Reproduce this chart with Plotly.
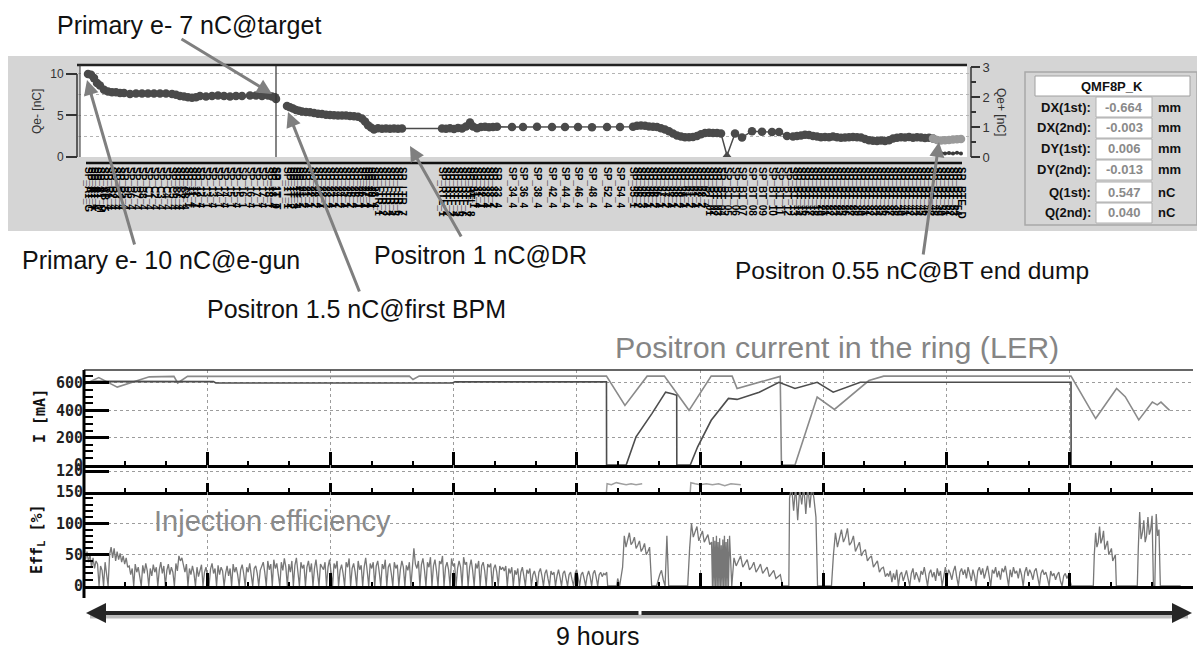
import numpy as np
import plotly.graph_objects as go

W, H = 1197, 649

# ---------------- top panel: bunch charge along the beam line ----------------
e_s = [0, 3, 6, 9, 12, 16, 20, 24, 28, 32, 36, 42, 48, 54, 60, 66, 72, 78, 84, 88,
       92, 96, 100, 104, 108, 112, 118, 124, 130, 136, 142, 148, 154, 162, 168, 174, 180, 184, 187, 188]
e_q = [10.0, 9.9, 9.5, 8.9, 8.6, 8.1, 7.9, 7.8, 7.8, 7.7, 7.7, 7.6, 7.65, 7.65, 7.65, 7.65, 7.65, 7.65, 7.6, 7.5,
       7.35, 7.3, 7.2, 7.15, 7.2, 7.35, 7.3, 7.35, 7.4, 7.35, 7.3, 7.35, 7.35, 7.4, 7.4, 7.35, 7.4, 7.3, 7.2, 7.0]
e_names = ("SP_A1_G SP_A1_T SP_A1_4 SP_A1_C SP_A1_M SP_AB_5 SP_B1_4 SP_B2_4 SP_B3_4 SP_B4_4 "
           "SP_B5_4 SP_B6_4 SP_B7_4 SP_B8_4 SP_C1_4 SP_C2_4 SP_C3_4 SP_C4_4 SP_C5_4 SP_C6_4 "
           "SP_C7_4 SP_C8_4 SP_11_1 SP_11_4 SP_12_1 SP_12_4 SP_13_1 SP_13_4 SP_14_1 SP_14_4 "
           "SP_15_1 SP_15_4 SP_16_1 SP_16_4 SP_17_1 SP_17_4 SP_18_1 SP_18_4 SP_1T_0 SP_1T_T").split()

p_s = [199, 202, 205, 208, 211, 214, 218, 222, 226, 230, 234, 238, 242, 246, 250, 254, 258, 262, 266, 270,
       274, 277, 280, 283, 286, 290, 294, 298, 302, 306, 310, 314,
       354, 358, 362, 366, 370, 374, 378, 382, 385, 389, 393, 397, 401, 405, 409,
       424, 435, 449, 464, 477, 490, 504, 519, 532,
       545, 549, 553, 557, 561, 565, 569, 573, 577, 581, 585, 589, 593, 597, 601, 605, 609, 613, 617, 621,
       625, 629, 633,
       639,
       647, 654, 664, 674, 684, 691,
       699, 705, 709, 713, 717, 721, 725, 729, 733, 737, 741, 745, 749, 753, 757, 761, 765, 769, 773, 777,
       781, 785, 789, 793, 797, 801, 805, 809, 813, 817, 821, 825, 829, 833, 837, 841, 845]
p_q = [1.70, 1.66, 1.62, 1.57, 1.54, 1.52, 1.50, 1.49, 1.47, 1.44, 1.43, 1.41, 1.40, 1.39, 1.38, 1.38, 1.38,
       1.37, 1.36, 1.34, 1.28, 1.18, 1.06, 0.98, 0.92, 0.96, 0.94, 0.95, 0.94, 0.95, 0.94, 0.95,
       0.95, 0.94, 0.96, 0.93, 0.97, 0.95, 1.02, 1.15, 1.02, 0.96, 1.00, 1.01, 0.99, 1.00, 1.01,
       1.00, 1.00, 1.01, 1.00, 1.00, 1.00, 0.99, 1.00, 1.00,
       1.01, 1.04, 1.05, 1.04, 1.02, 1.01, 1.00, 0.96, 0.92, 0.86, 0.78, 0.72, 0.68, 0.66, 0.66, 0.67,
       0.70, 0.76, 0.80, 0.81, 0.80, 0.80, 0.78,
       0.05,
       0.78, 0.65, 0.86, 0.84, 0.83, 0.83,
       0.70, 0.68, 0.70, 0.72, 0.74, 0.73, 0.70, 0.68, 0.66, 0.67, 0.66, 0.68, 0.66, 0.64, 0.65, 0.66,
       0.67, 0.66, 0.65, 0.60, 0.56, 0.54, 0.53, 0.55, 0.53, 0.56, 0.62, 0.64, 0.66, 0.65, 0.67, 0.64,
       0.66, 0.65, 0.63, 0.64, 0.62]
p_names = ("SP_1T_1 SP_1T_2 SP_1T_3 SP_1T_4 SP_21_1 SP_21_2 SP_21_4 SP_22_1 SP_22_2 SP_22_4 "
           "SP_23_1 SP_23_2 SP_23_4 SP_24_1 SP_24_2 SP_24_4 SP_25_1 SP_25_2 SP_25_4 SP_26_1 "
           "SP_26_4 SP_27_1 SP_27_4 SP_28_1 SP_28_4 SP_LTR_1 SP_LTR_2 SP_LTR_3 SP_LTR_4 SP_LTR_5 "
           "SP_LTR_6 SP_LTR_7 "
           "SP_RTL_1 SP_RTL_2 SP_RTL_3 SP_RTL_4 SP_RTL_5 SP_RTL_6 SP_RTL_7 SP_RTL_8 SP_31_1 SP_31_4 "
           "SP_32_1 SP_32_4 SP_33_1 SP_33_2 SP_33_4 "
           "SP_34_4 SP_36_4 SP_38_4 SP_42_4 SP_44_4 SP_46_4 SP_48_4 SP_52_4 SP_54_4 "
           "SP_55_1 SP_55_2 SP_55_3 SP_55_4 SP_56_1 SP_56_2 SP_56_4 SP_57_1 SP_57_2 SP_57_4 "
           "SP_58_1 SP_58_2 SP_58_4 SP_61_1 SP_61_2 SP_61_4 SP_62_1 SP_62_2 SP_62_4 SP_BT_01 "
           "SP_BT_02 SP_BT_03 SP_BT_04 SP_BT_05 SP_BT_06 SP_BT_07 SP_BT_08 SP_BT_09 SP_BT_10 SP_BT_11 "
           "SP_BT_12 SP_BT_13 SP_BT_14 SP_BT_15 SP_BT_16 SP_BT_17 SP_BT_18 SP_BT_19 SP_BT_20 SP_BT_21 "
           "SP_BT_22 SP_BT_23 SP_BT_24 SP_BT_25 SP_BT_26 SP_BT_27 SP_BT_28 SP_BT_29 SP_BT_30 SP_BT_31 "
           "SP_BT_32 SP_BT_33 SP_BT_34 SP_BT_35 SP_BT_36 SP_BT_37 SP_BT_38 SP_BT_39 SP_BT_40 SP_BT_41 "
           "SP_BT_42 SP_BT_43 SP_BT_44 SP_BT_45 SP_BT_46 SP_BT_47 SP_BT_48").split()

l_s = [849, 853, 857, 861, 865, 869, 873]
l_q = [0.57, 0.55, 0.56, 0.57, 0.58, 0.59, 0.60]
l_names = "SP_BT_49 SP_BT_50 SP_BT_51 SP_BT_52 SP_BT_53 SP_BT_54 SP_BTE_D".split()

b2_s = [853, 857, 861, 865, 869, 873]
b2_q = [0.13, 0.12, 0.13, 0.12, 0.14, 0.12]

table_rows = [("DX(1st):", "-0.664", "mm"), ("DX(2nd):", "-0.003", "mm"), ("DY(1st):", "0.006", "mm"),
              ("DY(2nd):", "-0.013", "mm"), ("Q(1st):", "0.547", "nC"), ("Q(2nd):", "0.040", "nC")]

# ---------------- bottom panels: 9 hours of operation ----------------
cur_light_t = [0.00, 0.12, 0.27, 0.53, 0.73, 0.76, 0.84, 2.64, 2.67, 2.72, 4.24, 4.39, 4.57, 4.71, 4.91,
               5.09, 5.26, 5.30, 5.65, 5.66, 5.77, 5.95, 6.09, 6.37, 6.49, 8.01, 8.21, 8.38, 8.45, 8.56,
               8.67, 8.71, 8.74, 8.81]
cur_light_v = [590, 640, 570, 645, 648, 600, 648, 650, 625, 650, 650, 436, 650, 650, 400,
               650, 650, 560, 648, 0, 0, 497, 407, 618, 650, 650, 340, 560, 500, 330,
               460, 440, 460, 400]
cur_dark_t = [0.00, 0.09, 1.05, 1.07, 2.99, 3.01, 4.24, 4.241, 4.40, 4.48, 4.61, 4.72, 4.78, 4.81, 4.811,
              4.92, 4.98, 5.09, 5.23, 5.30, 5.48, 5.64, 5.77, 5.95, 6.08, 6.30, 8.01, 8.011]
cur_dark_v = [595, 612, 610, 600, 600, 608, 608, 0, 0, 206, 378, 533, 520, 510, 0,
              0, 133, 327, 487, 480, 533, 605, 560, 605, 533, 605, 605, 0]

strip_t = [4.24, 4.245, 4.28, 4.32, 4.36, 4.40, 4.44, 4.48, 4.53, None,
           4.92, 4.925, 4.96, 5.00, 5.05, 5.10, 5.15, 5.20, 5.25, 5.33]
strip_v = [100, 108, 107, 109, 108, 107, 108, 107, 108, None,
           100, 109, 108, 107, 108, 107, 108, 106, 108, 107]

eff_seg_a = [int(v) for v in """
60 42 55 38 50 30 45 28 40 35 0 32 25 0 38 20 0
50 62 45 60 40 55 42 52 38 48 35 45 30
32 18 28 0 35 22 30 15 0 33 20 36 24 0 28 16 34 22 30 0 26 38 20 32 0 25 35 18 30 22 0 36 24
48 40 45 30
22 35 0 28 18 32 20 0 30 15 26 34 0 22 30 18 0 27 36 20 28 0 33 18 30 24 0 20 32 16 28 0 35 22 30 18
0 26 34 20 0 30 22 36 18 0 28 32 20 0 25 33
38 22 0 40 26 35 0 42 28 36 20 0 38 25 44 30 0 35 22 40 0 33 45 26 0 38 28 34 0 30 40 22 36 0 28 42
25 0 35 30
26 38 0 30 42 22 0 36 28 40 0 25 34 20 0 38 30 44 0 28 36 22 0 40 26 33 0 30 45 24 0 36 28 38 0 32 40
22 0 35 27 42 0 30 36 20 0 38 28 34 0 26 40 30 0 33 25 38 0 30
60 35
28 40 0 34 44 26 0 38 30 46 0 32 42 24 0 40 35 48 0 30 38 26 0 44 32 36 0 28 40 30 0 46 34 38 0 30 42
25 0 36 28 40 0 32 38 24 0 35 30 36 0 28 34 22 0 32 26 30
24 32 0 28 20 30 0 25 18 28 0 22 30 16 0 26 20 28 0 18 24 14 0 22 28 16 0 20 26 12 0 24 18 22 0 16 26
14 0 20 24 12 0 18 22 10 0 20 26 14 0 18 22 12 0 16 24 15 0 20 25 14 0 18 22 15 20 18 22
""".split()]
eff_seg_b = [int(v) for v in """
15 24 6 20 10 26 0 18 22 8 16 25 12 0 20 28 10 22 15 6 24 18 30 12 0 20 26 14 22 8 28 16 24 0 18 30
12 26 20 10 24 32 14 0 22 28 18 26 12 30 20 8 26 16 0 24 30 18 28 12 22 32 16 0 26 20 30 14 24 10 28
22 32 18 0 26 14 30 20 24 12 28 18 0 22 30 16 26 20 10 24 28 14 0 20 26 18 22 12 0 24 16 20 10 18 22
8 0 16 20 12 18
""".split()]
eff_segments = [
    (0.000, 4.242, eff_seg_a),
    (4.250, 4.323, [0, 0]),
    (4.331, 4.347, [12, 0]),
    (4.371, 4.590, [30, 80, 62, 75, 85, 66, 70, 78, 60, 65, 72, 55, 60, 68, 50, 55, 62]),
    (4.607, 4.647, [0, 0]),
    (4.672, 4.745, [18, 25, 10, 0, 80, 0]),
    (4.760, 4.899, [0, 0]),
    (4.915, 5.093, [60, 100, 78, 85, 95, 72, 80, 88, 70, 75, 82, 66, 70]),
    (5.100, 5.230, [0, 78, 0, 72, 0, 80, 0, 70, 0, 76, 0, 65, 0, 74, 0, 80, 0, 70, 0, 75, 0]),
    (5.239, 5.669, [80, 0, 45, 32, 40, 48, 30, 35, 42, 26, 30, 38, 22, 28, 35, 20, 25, 30, 15, 20, 25,
                    12, 15, 18, 0]),
    (5.680, 5.720, [0, 0]),
    (5.726, 5.940, [140, 160, 120, 160, 105, 155, 130, 160, 115, 160, 125, 160, 140, 110]),
    (5.953, 6.066, [0, 0]),
    (6.082, 6.520, [50, 85, 62, 75, 90, 70, 78, 92, 65, 70, 80, 55, 62, 70, 48, 55, 58, 40, 45, 48, 30,
                    35, 40, 22, 28, 30, 15, 20]),
    (6.530, 7.990, eff_seg_b),
    (8.013, 8.191, [0, 0]),
    (8.199, 8.370, [50, 85, 62, 70, 95, 68, 75, 88, 58, 65, 72, 50, 55, 60, 40, 45, 50]),
    (8.378, 8.548, [0, 0]),
    (8.556, 8.735, [60, 118, 75, 85, 105, 70, 80, 110, 82, 90, 112, 0, 0, 115, 80, 90, 0]),
    (8.745, 8.900, [0, 0]),
]

eff_t, eff_v = [], []
for t0, t1, vals in eff_segments:
    eff_t.extend(np.linspace(t0, t1, len(vals)).tolist())
    eff_v.extend(vals)


# ---------------- helpers (layout positions in pixels -> paper) ----------------
def px(x):
    return x / W


def py(y):
    return 1 - y / H


SANS = "Liberation Sans"
MONO = "DejaVu Sans Mono"
DARK = "#4a4a4a"
GRID = "#9c9c9c"

fig = go.Figure()

# top panel traces
fig.add_trace(go.Scatter(x=e_s, y=e_q, mode="lines+markers", xaxis="x", yaxis="y",
                         line=dict(color=DARK, width=1.5), marker=dict(size=8.5, color=DARK)))
p_symbols = ["triangle-up" if q < 0.2 else "circle" for q in p_q]
fig.add_trace(go.Scatter(x=p_s, y=p_q, mode="lines+markers", xaxis="x", yaxis="y2",
                         line=dict(color=DARK, width=1.5),
                         marker=dict(size=8.5, color=DARK, symbol=p_symbols)))
fig.add_trace(go.Scatter(x=[p_s[-1]] + l_s, y=[p_q[-1]] + l_q, mode="lines+markers", xaxis="x", yaxis="y2",
                         line=dict(color="#9a9a9a", width=1.5), marker=dict(size=8.5, color="#9a9a9a")))
fig.add_trace(go.Scatter(x=b2_s, y=b2_q, mode="lines+markers", xaxis="x", yaxis="y2",
                         line=dict(color="#3a3a3a", width=2), marker=dict(size=4, color="#3a3a3a")))

# bottom panel traces
fig.add_trace(go.Scatter(x=cur_light_t, y=cur_light_v, mode="lines", xaxis="x2", yaxis="y3",
                         line=dict(color="#8a8a8a", width=1.6)))
fig.add_trace(go.Scatter(x=cur_dark_t, y=cur_dark_v, mode="lines", xaxis="x2", yaxis="y3",
                         line=dict(color="#4d4d4d", width=1.6)))
fig.add_trace(go.Scatter(x=strip_t, y=strip_v, mode="lines", xaxis="x3", yaxis="y4",
                         line=dict(color="#a0a0a0", width=1.5)))
fig.add_trace(go.Scatter(x=eff_t, y=eff_v, mode="lines", xaxis="x4", yaxis="y5",
                         line=dict(color="#777777", width=1.3)))

tick_s = e_s + p_s + l_s
tick_txt = e_names + p_names + l_names

bottom_x = dict(domain=[px(84), px(1193)], range=[0, 9], tick0=0, dtick=1, showticklabels=False,
                showgrid=True, gridcolor=GRID, griddash="dot", gridwidth=1, zeroline=False,
                automargin=False)
tick_font = dict(family=MONO, size=15, color="#222", weight="bold")
ylab = dict(ticks="inside", ticklen=25, tickwidth=3, tickcolor="black", showgrid=True,
            gridcolor=GRID, griddash="dot", zeroline=False, showline=False, tickfont=tick_font,
            automargin=False)

fig.update_layout(
    width=W, height=H, template="none",
    margin=dict(l=0, r=0, t=0, b=0),
    paper_bgcolor="white", plot_bgcolor="rgba(0,0,0,0)",
    showlegend=False,
    font=dict(family=SANS, color="#222"),
    xaxis=dict(domain=[px(78), px(970)], range=[-10, 882], anchor="y",
               tickmode="array", tickvals=tick_s, ticktext=tick_txt, tickangle=90,
               ticks="outside", ticklen=7, tickcolor="rgba(0,0,0,0)",
               tickfont=dict(family=SANS, size=10, color="#000", weight="bold"),
               showgrid=False, zeroline=False, showline=False, automargin=False),
    yaxis=dict(domain=[py(157), py(65)], range=[0, 11.08], anchor="x",
               tickvals=[0, 5, 10], ticks="outside", ticklen=11, tickwidth=1.5, tickcolor="#333",
               tickfont=dict(family=SANS, size=12, color="#333"),
               showgrid=True, gridcolor="#b4b4b4", griddash="dot",
               minor=dict(dtick=2.5, showgrid=True, gridcolor="#b4b4b4", griddash="dot"),
               zeroline=False, showline=False, automargin=False),
    yaxis2=dict(overlaying="y", side="right", anchor="x", range=[0, 3.067],
                tickvals=[0, 1, 2, 3], ticks="outside", ticklen=9, tickwidth=1.5, tickcolor="#333",
                minor=dict(dtick=0.5, ticks="outside", ticklen=5, tickcolor="#333"),
                tickfont=dict(family=SANS, size=13, color="#333"),
                showgrid=False, zeroline=False, showline=False, automargin=False),
    xaxis2=dict(bottom_x, anchor="y3", ticks="inside", ticklen=13, tickwidth=2.5, tickcolor="black",
                minor=dict(dtick=1 / 3, ticks="inside", ticklen=4, tickwidth=2, tickcolor="black"),
                showline=True, linewidth=3, linecolor="black"),
    yaxis3=dict(ylab, domain=[py(465), py(370)], range=[0, 695], anchor="x2",
                tickvals=[0, 200, 400, 600],
                minor=dict(dtick=50, ticks="inside", ticklen=9, tickwidth=2, tickcolor="black")),
    xaxis3=dict(bottom_x, anchor="y4", ticks="inside", ticklen=9, tickwidth=2.5, tickcolor="black",
                minor=dict(dtick=1 / 3, ticks="inside", ticklen=4, tickwidth=2, tickcolor="black"),
                showline=True, linewidth=3, linecolor="black"),
    yaxis4=dict(ylab, domain=[py(492), py(465)], range=[100, 126], anchor="x3", tickvals=[120]),
    xaxis4=dict(bottom_x, anchor="y5", ticks="inside", ticklen=13, tickwidth=2.5, tickcolor="black",
                minor=dict(dtick=1 / 3, ticks="inside", ticklen=4, tickwidth=2, tickcolor="black"),
                showline=True, linewidth=3, linecolor="black"),
    yaxis5=dict(ylab, domain=[py(586), py(492)], range=[0, 150], anchor="x4",
                tickvals=[0, 50, 100, 150],
                minor=dict(dtick=10, ticks="inside", ticklen=9, tickwidth=2, tickcolor="black")),
    xaxis5=dict(bottom_x, anchor="y6", ticks="", showline=False),
    yaxis6=dict(ylab, domain=[py(598), py(586)], range=[49, 53], anchor="x5", tickvals=[50]),
)

shapes = []


def rect(x0, y0, x1, y1, fill=None, line=None, lw=1, layer="below"):
    shapes.append(dict(type="rect", xref="paper", yref="paper", x0=px(x0), x1=px(x1), y0=py(y1), y1=py(y0),
                       fillcolor=fill or "rgba(0,0,0,0)", line=dict(color=line or "rgba(0,0,0,0)", width=lw),
                       layer=layer))


def hline(x0, x1, y, color, w, layer="above"):
    shapes.append(dict(type="line", xref="paper", yref="paper", x0=px(x0), x1=px(x1), y0=py(y), y1=py(y),
                       line=dict(color=color, width=w), layer=layer))


def vline(x, y0, y1, color, w, layer="above"):
    shapes.append(dict(type="line", xref="paper", yref="paper", x0=px(x), x1=px(x), y0=py(y0), y1=py(y1),
                       line=dict(color=color, width=w), layer=layer))


# top panel frame
rect(8, 56, 1197, 231, fill="#d5d5d5")
rect(80, 65, 967, 157, fill="white")
hline(77, 967, 65, "#222", 2.5)
vline(77, 74, 157, "#333", 1.5)
vline(80, 65, 157, "#333", 1)
vline(971, 67, 157, "#333", 1.5)
hline(86, 962, 163, "#111", 2.5)
# separator at the positron target (last electron BPM)
shapes.append(dict(type="line", xref="x", yref="paper", x0=e_s[-1], x1=e_s[-1], y0=py(157), y1=py(66),
                   line=dict(color="#333", width=1.2)))

# table box
rect(1025, 72, 1197, 225, fill="#d5d5d5", line="#a8a8a8", lw=1.5)
rect(1035, 76, 1190, 96, fill="white", line="#a0a0a0", lw=1)
row_y = [107, 128, 149, 170, 192, 213]
for yy in row_y:
    rect(1096, yy - 10, 1152, yy + 10, fill="white", line="#b0b0b0", lw=1)

# bottom panels frame
hline(84, 1193, 370, "#333", 1.5)
vline(84, 370, 598, "black", 3)
hline(90, 1188, 616.5, "#bdbdbd", 4, layer="below")

fig.update_layout(shapes=shapes)

ann = []


def text(x, y, s, size, color="#111", family=SANS, xanchor="left", angle=0, bold=False):
    ann.append(dict(x=px(x), y=py(y), xref="paper", yref="paper", text=s, showarrow=False,
                    xanchor=xanchor, yanchor="middle", textangle=angle,
                    font=dict(family=family, size=size, color=color, weight="bold" if bold else "normal")))


def arrow(tail, tip, color="#7f7f7f", width=3, head=2):
    ann.append(dict(x=px(tip[0]), y=py(tip[1]), xref="paper", yref="paper", text="",
                    ax=tail[0] - tip[0], ay=tail[1] - tip[1], axref="pixel", ayref="pixel",
                    showarrow=True, arrowhead=head, arrowsize=1, arrowwidth=width, arrowcolor=color))


text(55, 25, "Primary e- 7 nC@target", 25)
text(20, 260, "Primary e- 10 nC@e-gun", 25)
text(205, 309, "Positron 1.5 nC@first BPM", 25)
text(372, 255, "Positron 1 nC@DR", 25)
text(733, 270, "Positron 0.55 nC@BT end dump", 24.5)
arrow((180, 38), (272, 94))
arrow((135, 246), (87, 80))
arrow((360, 293), (288, 112))
arrow((462, 238), (410, 146))
arrow((923, 256), (939, 142))

text(37, 112, "Qe- [nC]", 12, color="#333", xanchor="center", angle=-90)
text(1001, 112, "Qe+ [nC]", 12, color="#333", xanchor="center", angle=90)

text(1112, 86, "QMF8P_K", 13, xanchor="center", bold=True)
for (lab, val, unit), yy in zip(table_rows, row_y):
    text(1093, yy, lab, 13, xanchor="right", bold=True)
    text(1124, yy, val, 13, color="#8a8a8a", xanchor="center", bold=True)
    text(1156, yy, unit, 13, bold=True)

text(613, 347, "Positron current in the ring (LER)", 30.4, color="#858585")
text(152, 521, "Injection efficiency", 29, color="#8a8a8a")
text(40, 416, "I [mA]", 15, family=MONO, xanchor="center", angle=-90, bold=True)
text(37, 539, "Eff<sub>L</sub> [%]", 15, family=MONO, xanchor="center", angle=-90, bold=True)

arrow((640, 613), (86, 613), color="#262626", width=4)
arrow((640, 613), (1192, 613), color="#262626", width=4)
text(597, 636, "9 hours", 25, color="#111", xanchor="center")

fig.update_layout(annotations=ann)

fig.write_html("out.html", config={"displayModeBar": False},
               post_script="document.body.style.margin='0';document.body.style.overflow='hidden';")
